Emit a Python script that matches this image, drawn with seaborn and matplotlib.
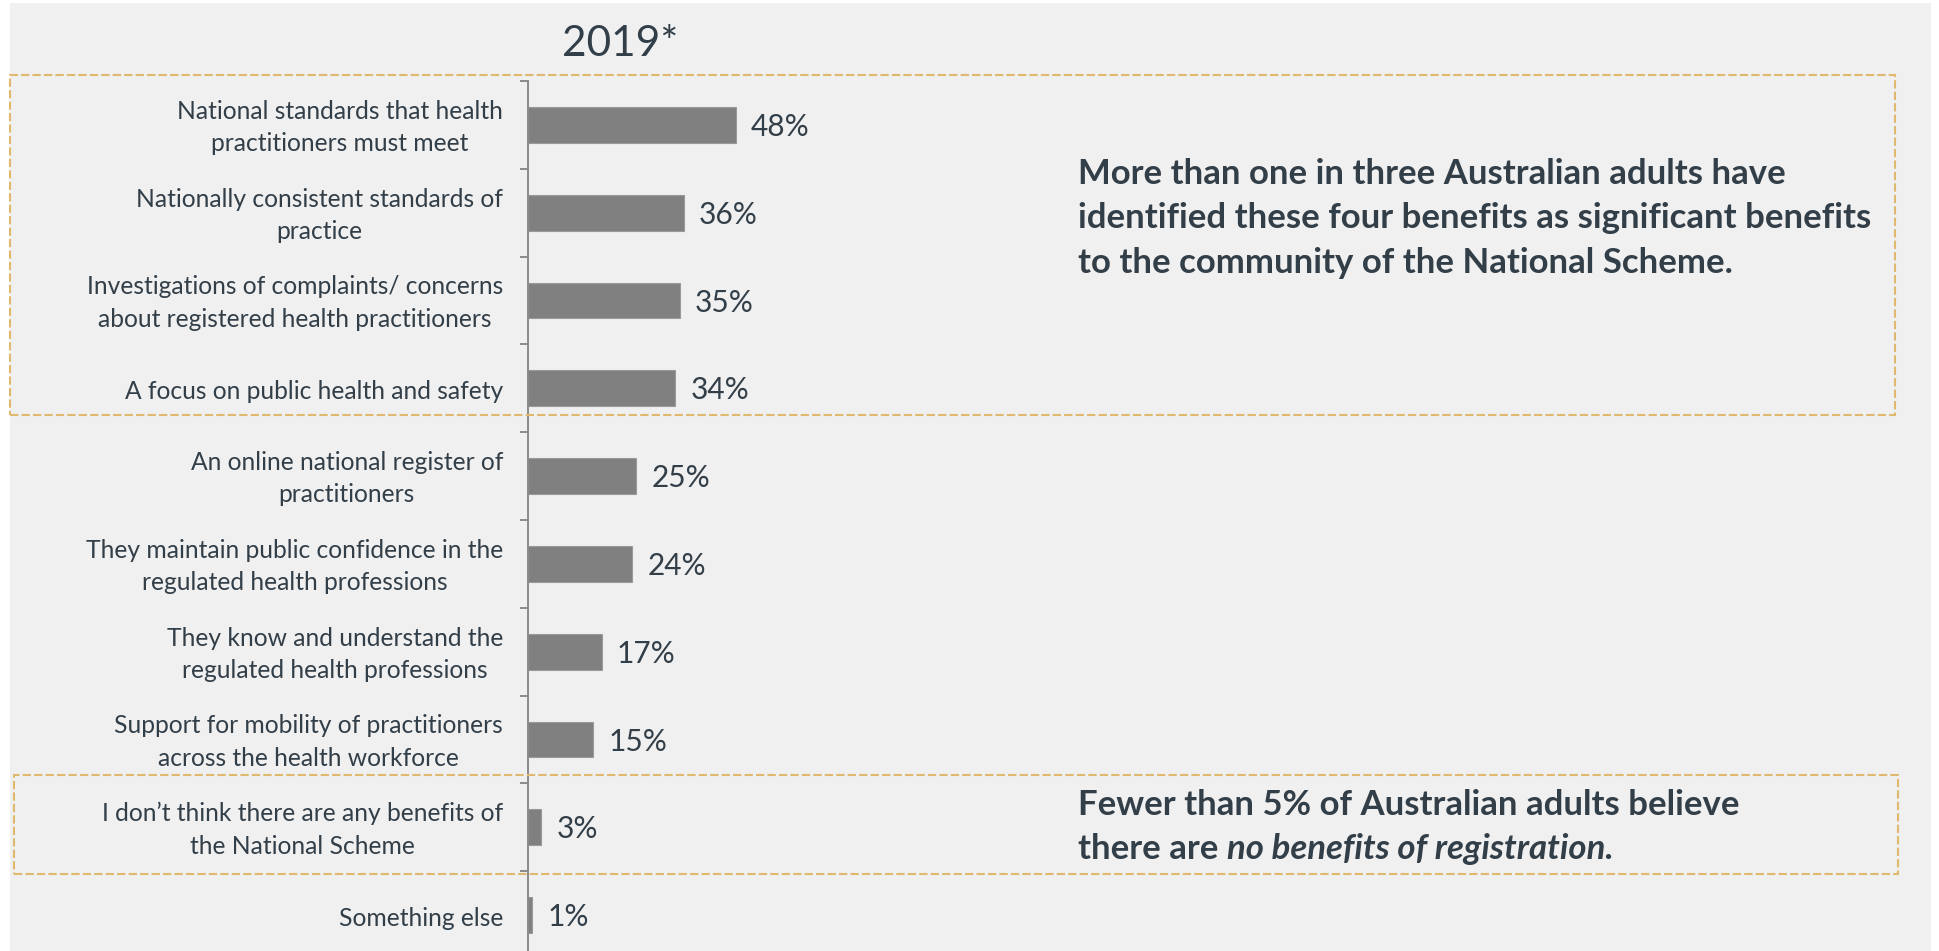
import matplotlib
matplotlib.use("Agg")
import matplotlib.pyplot as plt
import matplotlib.transforms as mtransforms
from matplotlib.patches import Rectangle
from matplotlib.ticker import FixedLocator
import numpy as np
import pandas as pd
import seaborn as sns

W, H = 1939, 951

categories = [
    "National standards that health\npractitioners must meet",
    "Nationally consistent standards of\npractice",
    "Investigations of complaints/ concerns\nabout registered health practitioners",
    "A focus on public health and safety",
    "An online national register of\npractitioners",
    "They maintain public confidence in the\nregulated health professions",
    "They know and understand the\nregulated health professions",
    "Support for mobility of practitioners\nacross the health workforce",
    "I don\u2019t think there are any benefits of\nthe National Scheme",
    "Something else",
]
values = [48, 36, 35, 34, 25, 24, 17, 15, 3, 1]
title = "2019*"
note_top = [
    "More than one in three Australian adults have",
    "identified these four benefits as significant benefits",
    "to the community of the National Scheme.",
]
note_bottom_1 = "Fewer than 5% of Australian adults believe"
note_bottom_2a = "there are"
note_bottom_2b = "no benefits of registration."

TEXT = "#323E48"
BG = "#F0F0F0"
BOX = "#E0B96F"

sns.set_theme(style="white")
plt.rcParams["font.family"] = ["Lato", "DejaVu Sans"]

fig = plt.figure(figsize=(W / 100, H / 100), dpi=100, facecolor="white")


def fx(x):
    return x / W


def fy(y):
    return 1 - y / H


# grey slide background, kept under the axes
fig.patches.append(Rectangle((fx(10), 0), fx(1931) - fx(10), fy(3), transform=fig.transFigure,
                             facecolor=BG, edgecolor="none", zorder=-5))

ax = fig.add_axes([fx(528), fy(959), 433 / W, 878 / H])
ax.set_facecolor("none")

df = pd.DataFrame({"benefit": categories, "pct": values})
sns.barplot(data=df, y="benefit", x="pct", orient="h", color="#808080", width=0.41,
            edgecolor="#9A9A9A", linewidth=0.8, saturation=1, ax=ax)
ax.set_xlim(0, 100)
ax.set_xlabel("")
ax.set_ylabel("")
for t in ax.bar_label(ax.containers[0], labels=[f"{v}%" for v in values], padding=11,
                      fontsize=21.5, color=TEXT):
    t.set_y(-1.5)

for side in ["top", "right", "bottom"]:
    ax.spines[side].set_visible(False)
ax.spines["left"].set_color("#8A8A8A")
ax.spines["left"].set_linewidth(1.4)
ax.set_xticks([])
ax.yaxis.set_minor_locator(FixedLocator(np.arange(-0.5, len(categories), 1)))
ax.tick_params(axis="y", which="major", length=0, pad=18, labelsize=17.7, labelcolor=TEXT)
ax.tick_params(axis="y", which="minor", length=6, width=1.4, color="#8A8A8A", left=True)
# two-line labels sit a little high, one-line labels a little low
lift = mtransforms.ScaledTranslation(0, 3 / 72, fig.dpi_scale_trans)
drop = mtransforms.ScaledTranslation(0, -1 / 72, fig.dpi_scale_trans)
for lab in ax.get_yticklabels():
    lab.set_multialignment("center")
    lab.set_linespacing(1.5)
    lab.set_transform(lab.get_transform() + (lift if "\n" in lab.get_text() else drop))

fig.text(fx(620), fy(44), title, ha="center", va="center", fontsize=30.5, color=TEXT)

# dashed highlight boxes
for x0, y0, x1, y1 in [(10, 75, 1895, 415), (14, 775, 1898, 874)]:
    fig.patches.append(Rectangle((fx(x0), fy(y1)), fx(x1) - fx(x0), fy(y0) - fy(y1),
                                 transform=fig.transFigure, facecolor="none", edgecolor=BOX,
                                 linewidth=1.5, linestyle=(0, (4, 1.5)), zorder=5))

for i, line in enumerate(note_top):
    fig.text(fx(1078), fy(174 + 44.5 * i), line, ha="left", va="center", fontsize=25,
             fontweight="bold", color=TEXT)

fig.text(fx(1078), fy(805), note_bottom_1, ha="left", va="center", fontsize=25,
         fontweight="bold", color=TEXT)
t2 = fig.text(fx(1078), fy(849), note_bottom_2a, ha="left", va="center", fontsize=25,
              fontweight="bold", color=TEXT)
fig.canvas.draw()
ax.annotate(note_bottom_2b, xy=(1, 0), xycoords=t2, xytext=(6, 0), textcoords="offset points",
            ha="left", va="bottom", fontsize=25, fontweight="bold", fontstyle="italic",
            color=TEXT, annotation_clip=False)

fig.savefig("out.png", dpi=100, facecolor=fig.get_facecolor())
